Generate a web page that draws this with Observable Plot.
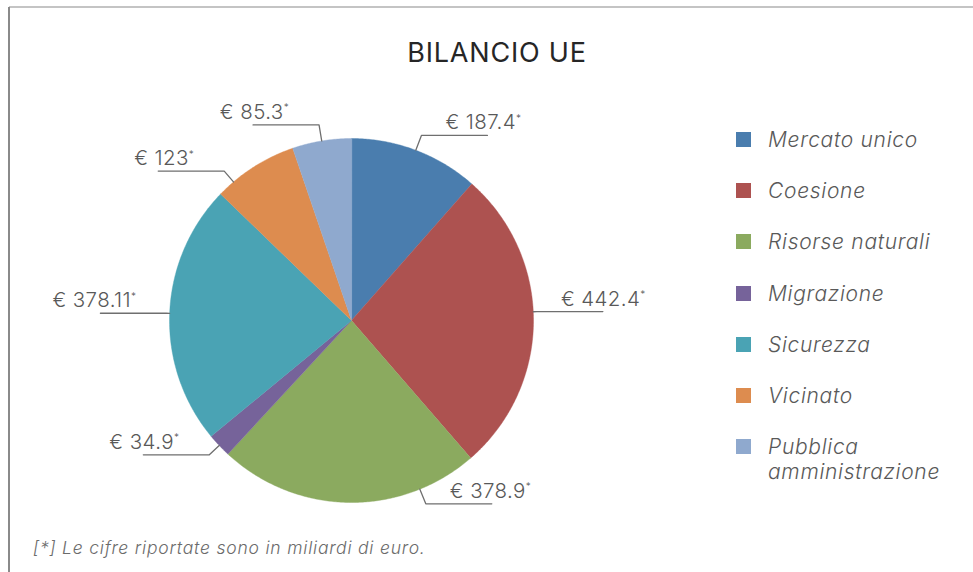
<!DOCTYPE html>
<html>
<head>
<meta charset="utf-8">
<script src="https://cdn.jsdelivr.net/npm/d3@7"></script>
<script src="https://cdn.jsdelivr.net/npm/@observablehq/plot@0.6"></script>
<style>
  html, body { margin: 0; padding: 0; background: #fff; }
  #frame { position: relative; width: 973px; height: 572px; overflow: hidden; font-family: Inter, "Open Sans", "DejaVu Sans", sans-serif; }
  #topline { position: absolute; left: 9px; right: 0; top: 6px; height: 2px; background: #c4c4c4; }
  #leftline { position: absolute; left: 8px; top: 7px; bottom: 0; width: 1.5px; background: #8a8a8a; }
  #title { position: absolute; left: 0; width: 994px; top: 37px; line-height: 32px; text-align: center; font-size: 27px; font-weight: 400; color: #262626; letter-spacing: 0.8px; }
  #chart { position: absolute; left: 0; top: 80px; }
  #legend { position: absolute; left: 736px; top: 127px; }
  .row { position: relative; height: 51.2px; }
  .sw { position: absolute; left: 0; top: 5px; width: 15px; height: 15px; }
  .lab { position: absolute; left: 32px; top: 0; font-size: 21px; line-height: 25px; font-style: italic; font-weight: 300; color: #595959; white-space: nowrap; letter-spacing: 0.7px; }
  #note { position: absolute; left: 33px; top: 537px; font-size: 17.5px; line-height: 22px; font-style: italic; font-weight: 300; color: #6b6b6b; white-space: nowrap; letter-spacing: 0.8px; }
</style>
</head>
<body>
<div id="frame">
  <div id="topline"></div>
  <div id="leftline"></div>
  <div id="title">BILANCIO UE</div>
  <div id="chart"></div>
  <div id="legend"></div>
  <div id="note">[*] Le cifre riportate sono in miliardi di euro.</div>
</div>
<script>
// ---- data ----
const categories = ["Mercato unico", "Coesione", "Risorse naturali", "Migrazione", "Sicurezza", "Vicinato", "Pubblica amministrazione"];
const legendLabels = ["Mercato unico", "Coesione", "Risorse naturali", "Migrazione", "Sicurezza", "Vicinato", "Pubblica<br>amministrazione"];
const values = [187.4, 442.4, 378.9, 34.9, 378.11, 123, 85.3];
const valueLabels = ["187.4", "442.4", "378.9", "34.9", "378.11", "123", "85.3"];
const colors = ["#4a7dae", "#ad5250", "#8baa5f", "#76639a", "#4aa3b4", "#dd8c4f", "#8fa9ce"];

// ---- layout ----
const W = 700, H = 460, R = 182;
const CX = 351, CY = 240;           // pie centre inside the svg, px
const labelNudgeDeg = {"Coesione": -3, "Risorse naturali": -23, "Vicinato": -8};
const hLen = 66 / R;                // horizontal leader length in radius units

const rows = categories.map((c, i) => ({cat: c, value: values[i], label: "€ " + valueLabels[i]}));
const arcs = d3.pie().sort(null).value(d => d.value)(rows);
const pt = (a, r) => [r * Math.sin(a), r * Math.cos(a)];

// slice polygons
const slicePts = [];
arcs.forEach(a => {
  const cat = a.data.cat;
  slicePts.push({cat, x: 0, y: 0});
  const n = Math.max(2, Math.ceil((a.endAngle - a.startAngle) / (Math.PI / 360)));
  for (let k = 0; k <= n; k++) {
    const t = a.startAngle + (a.endAngle - a.startAngle) * k / n;
    const [x, y] = pt(t, 1);
    slicePts.push({cat, x, y});
  }
});

// leaders and labels
const leaderPts = [];
const labels = [];
arcs.forEach(a => {
  const cat = a.data.cat;
  const mid = (a.startAngle + a.endAngle) / 2 + (labelNudgeDeg[cat] || 0) * Math.PI / 180;
  const [x0, y0] = pt(mid, 1);
  const re = 1 + 0.09 * Math.sqrt(Math.abs(Math.cos(mid)));
  const [x1, y1] = pt(mid, re);
  const right = Math.sin(mid) >= 0;
  const x2 = x1 + (right ? hLen : -hLen);
  leaderPts.push({cat, x: x0, y: y0}, {cat, x: x1, y: y1}, {cat, x: x2, y: y1});
  labels.push({cat, x: x1, y: y1, right, text: a.data.label});
});

const textStyle = {x: "x", y: "y", text: "text", lineAnchor: "bottom", dy: -6, fontSize: 20.5, fontWeight: 300, fill: "#595959"};

const plot = Plot.plot({
  width: W,
  height: H,
  margin: 0,
  x: {domain: [-CX / R, (W - CX) / R], axis: null},
  y: {domain: [-(H - CY) / R, CY / R], axis: null},
  color: {domain: categories, range: colors},
  style: {fontFamily: "Inter, 'Open Sans', sans-serif", overflow: "visible", background: "transparent"},
  marks: [
    Plot.line(slicePts, {x: "x", y: "y", z: "cat", fill: "cat", stroke: "cat", strokeWidth: 0.4, curve: "linear-closed"}),
    Plot.line(leaderPts, {x: "x", y: "y", z: "cat", stroke: "#6f6f6f", strokeWidth: 1.3}),
    Plot.text(labels.filter(d => d.right), {...textStyle, textAnchor: "start", dx: 24}),
    Plot.text(labels.filter(d => !d.right), {...textStyle, textAnchor: "end", dx: -30})
  ]
});
document.getElementById("chart").appendChild(plot);

// superscript asterisk on value labels
d3.select(plot).selectAll('g[aria-label="text"] text').each(function () {
  d3.select(this).attr("letter-spacing", "0.4px");
  d3.select(this).append("tspan").attr("font-size", 10).attr("dy", "-0.75em").text("*");
});

// legend
const leg = d3.select("#legend");
categories.forEach((c, i) => {
  const r = leg.append("div").attr("class", "row");
  r.append("div").attr("class", "sw").style("background", colors[i]);
  r.append("div").attr("class", "lab").html(legendLabels[i]);
});
</script>
</body>
</html>
